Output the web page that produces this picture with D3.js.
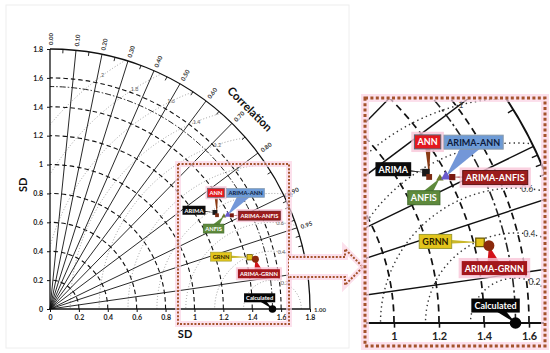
<!DOCTYPE html>
<html>
<head>
<meta charset="utf-8">
<script src="https://cdn.jsdelivr.net/npm/d3@7"></script>
<style>
  body { margin: 0; background: #fff; }
  svg { display: block; font-family: Lato, "Open Sans", sans-serif; }
</style>
</head>
<body>
<svg id="chart" width="550" height="353"></svg>
<script>
// models on the Taylor diagram: standard deviation and correlation
const models = ["ARIMA", "ANN", "ANFIS", "ARIMA-ANN", "ARIMA-ANFIS", "GRNN", "ARIMA-GRNN", "Calculated"];
const sdValues = [1.323, 1.326, 1.365, 1.392, 1.416, 1.428, 1.463, 1.54];
const corrValues = [0.863, 0.872, 0.882, 0.884, 0.889, 0.968, 0.972, 1.0];
const refSD = 1.54;

const sdTicks = [0, 0.2, 0.4, 0.6, 0.8, 1, 1.2, 1.4, 1.6, 1.8];
const sdTickLabels = ["0", "0.2", "0.4", "0.6", "0.8", "1", "1.2", "1.4", "1.6", "1.8"];
const sdRings = [0.2, 0.4, 0.6, 0.8, 1, 1.2, 1.4, 1.6];
const corrTicks = [0, 0.1, 0.2, 0.3, 0.4, 0.5, 0.6, 0.7, 0.8, 0.9, 0.95, 0.99, 1];
const corrTickLabels = ["0.00", "0.10", "0.20", "0.30", "0.40", "0.50", "0.60", "0.70", "0.80", "0.90", "0.95", "0.99", "1.00"];
const corrMinor = [0.05, 0.15, 0.25, 0.35, 0.45, 0.55, 0.65, 0.75, 0.85, 0.91, 0.92, 0.93, 0.94, 0.96, 0.97, 0.98];
const rmsRings = [0.2, 0.4, 0.6, 0.8, 1, 1.2, 1.4, 1.6, 1.8, 2];
const rmsLabels = ["0.2", "0.4", "0.6", "0.8", "1", "1.2", "1.4", "1.6", "1.8", "2"];

// layout: where each rms label sits on its ring (degrees, seen from the reference point)
const rmsLabelAngle = [65, 81, 85, 82, 104, 108.5, 112, 116, 122, 126];

// layout + look of the callouts, offsets in main-chart pixels
const callouts = {
  "ARIMA":       { dx: -20.9, dy: -2.2, fill: "#0c0c0c", ink: "#fff", tail: 0.9, tailFill: "#111", shape: d3.symbolSquare, size: 24, mFill: "#1a1a1a" },
  "ANN":         { dx: -1, dy: -22.5, fill: "#e3191f", ink: "#fff", stroke: "#4f6b78", glow: true, tail: 2, tailFill: "#8a3a14", shape: d3.symbolSquare, size: 14, mFill: "#7b2a12" },
  "ANFIS":       { dx: -10.3, dy: 12.5, fill: "#5e8a3c", ink: "#fff", stroke: "#3f6a2a", tail: 3.5, tailFill: "#5e8a3c", shape: d3.symbolTriangle, size: 10, mFill: "#6b7a2a" },
  "ARIMA-ANN":   { dx: 17.8, dy: -22.1, fill: "#6e9bd6", ink: "#0c1a3a", stroke: "#8a9aa8", tail: 6, tailFill: "#7397d8", shape: d3.symbolTriangle, size: 18, mFill: "#6a5acd" },
  "ARIMA-ANFIS": { dx: 27.6, dy: 0.3, fill: "#9c1c1c", ink: "#fff", stroke: "#5a1010", glow: true, tail: 2, tailFill: "#8b1a1a", shape: d3.symbolSquare, size: 16, mFill: "#7a1a10" },
  "GRNN":        { dx: -28.6, dy: -0.6, fill: "#e2c41c", ink: "#2a1c00", stroke: "#9a9a30", tail: 1.8, tailFill: "#c9b72a", shape: d3.symbolSquare, size: 30, mFill: "#e6c51a", mStroke: "#6b5a00" },
  "ARIMA-GRNN":  { dx: 3.5, dy: 14.4, fill: "#a3161b", ink: "#fff", glow: true, tail: 5, tailFill: "#d3121a", shape: d3.symbolCircle, size: 38, mFill: "#8b2a0c" },
  "Calculated":  { dx: -12.8, dy: -11.2, fill: "#050505", ink: "#fff", tail: 3, tailFill: "#050505", shape: d3.symbolCircle, size: 44, mFill: "#050505" }
};

const svg = d3.select("#chart");

const mainX = d3.scaleLinear().domain([0, 1.8]).range([50, 310]);
const mainY = d3.scaleLinear().domain([0, 1.8]).range([309, 49]);
const insetX = d3.scaleLinear().domain([0, 1.8]).range([169, 574]);
const insetY = d3.scaleLinear().domain([0, 1.8]).range([323, -82]);

function drawTaylor(g, sx, sy, k, id, look) {
  const ox = sx(0), oy = sy(0), u = sx(1) - sx(0);
  const at = (r, c) => [sx(r * c), sy(r * Math.sqrt(Math.max(0, 1 - c * c)))];
  const ring = r => {
    const p = d3.path();
    p.arc(ox, oy, r * u, 0, -Math.PI / 2, true);
    return p.toString();
  };

  g.append("clipPath").attr("id", id)
    .append("path").attr("d", ring(1.8) + `L${ox},${oy}Z`);

  // centred rms rings around the observed point
  g.append("g").attr("clip-path", `url(#${id})`)
    .selectAll("circle").data(rmsRings).join("circle")
    .attr("cx", sx(refSD)).attr("cy", oy).attr("r", d => d * u)
    .attr("fill", "none").attr("stroke", look.rms)
    .attr("stroke-width", 0.9 * k)
    .attr("stroke-dasharray", `${0.9 * k} ${2.1 * k}`);

  // radial correlation lines
  g.append("g").selectAll("line")
    .data(corrTicks.filter(c => c > 0 && c < 1)).join("line")
    .attr("x1", ox).attr("y1", oy)
    .attr("x2", d => at(1.8, d)[0]).attr("y2", d => at(1.8, d)[1])
    .attr("stroke", "#111").attr("stroke-width", 0.9 * k);

  // standard deviation rings
  g.append("g").selectAll("path").data(sdRings).join("path")
    .attr("d", ring).attr("fill", "none")
    .attr("stroke", "#111").attr("stroke-width", 1.1 * k)
    .attr("stroke-dasharray", `${4.5 * k} ${3 * k}`);

  g.append("path").attr("d", ring(refSD)).attr("fill", "none")
    .attr("stroke", "#222").attr("stroke-width", 1 * k)
    .attr("stroke-dasharray", `${6 * k} ${2 * k} ${1.5 * k} ${2 * k}`);

  // outer arc and its minor ticks
  g.append("path").attr("d", ring(1.8)).attr("fill", "none")
    .attr("stroke", "#111").attr("stroke-width", 1.3 * k);

  g.append("g").selectAll("line").data(corrMinor).join("line")
    .attr("x1", d => at(1.8, d)[0]).attr("y1", d => at(1.8, d)[1])
    .attr("x2", d => at(1.8 - 4 * k / u, d)[0]).attr("y2", d => at(1.8 - 4 * k / u, d)[1])
    .attr("stroke", "#111").attr("stroke-width", 0.9 * k);

  // rms labels
  g.append("g").selectAll("text").data(rmsRings).join("text")
    .attr("x", (d, i) => sx(refSD + d * Math.cos(rmsLabelAngle[i] * Math.PI / 180)))
    .attr("y", (d, i) => sy(d * Math.sin(rmsLabelAngle[i] * Math.PI / 180)))
    .attr("text-anchor", "middle").attr("dominant-baseline", "central")
    .attr("font-size", 5.5 * k).attr("fill", look.rmsText)
    .text((d, i) => rmsLabels[i]);

  // correlation labels round the arc
  g.append("g").selectAll("text").data(corrTicks).join("text")
    .attr("transform", d => {
      const [x, y] = at(1.8 + 4 * k / u, d);
      return `translate(${x},${y}) rotate(${-Math.acos(d) * 180 / Math.PI})`;
    })
    .attr("dominant-baseline", "central")
    .attr("font-size", 6 * k).attr("font-weight", 700).attr("fill", "#333")
    .text((d, i) => corrTickLabels[i]);

  // axes
  const xAxis = g.append("g").attr("transform", `translate(0,${oy})`)
    .call(d3.axisBottom(sx).tickValues(sdTicks).tickSize(3 * k).tickPadding(3 * k)
      .tickFormat((d, i) => sdTickLabels[i]));
  const yAxis = g.append("g").attr("transform", `translate(${ox},0)`)
    .call(d3.axisLeft(sy).tickValues(sdTicks).tickSize(3 * k).tickPadding(4 * k)
      .tickFormat((d, i) => sdTickLabels[i]));
  [xAxis, yAxis].forEach(a => {
    a.select(".domain").remove();
    a.attr("font-family", null).attr("font-size", null);
    a.selectAll(".tick line").attr("stroke", "#111").attr("stroke-width", 1 * k);
    a.selectAll(".tick text").attr("font-size", 7 * k).attr("font-weight", 700).attr("fill", "#222");
  });

  g.append("line").attr("x1", ox).attr("y1", oy).attr("x2", sx(1.8)).attr("y2", oy)
    .attr("stroke", "#111").attr("stroke-width", 1.3 * k);
  g.append("line").attr("x1", ox).attr("y1", oy).attr("x2", ox).attr("y2", sy(1.8))
    .attr("stroke", "#111").attr("stroke-width", 1.3 * k);

  // titles
  g.append("text").attr("x", sx(0.935)).attr("y", oy + 24 * k)
    .attr("text-anchor", "middle").attr("dominant-baseline", "central")
    .attr("font-size", 11 * k).attr("font-weight", 700).attr("fill", "#111").text("SD");
  g.append("text").attr("transform", `translate(${ox - 28 * k},${sy(0.86)}) rotate(-90)`)
    .attr("text-anchor", "middle").attr("dominant-baseline", "central")
    .attr("font-size", 11 * k).attr("font-weight", 700).attr("fill", "#111").text("SD");
  const [cx, cy] = at(1.96, 0.707);
  g.append("text").attr("transform", `translate(${cx},${cy}) rotate(45)`)
    .attr("text-anchor", "middle").attr("dominant-baseline", "central")
    .attr("font-size", 11.5 * k).attr("font-weight", 700).attr("fill", "#111").text("Correlation");

  drawCallouts(g, sx, sy, k);
}

function drawCallouts(g, sx, sy, k) {
  const pts = models.map((m, i) => {
    const r = sdValues[i], c = corrValues[i];
    const px = sx(r * c), py = sy(r * Math.sqrt(1 - c * c));
    const o = callouts[m];
    return { m, o, px, py, bx: px + o.dx * k, by: py + o.dy * k };
  });

  const tails = g.append("g");
  const marks = g.append("g");
  const boxes = g.append("g");

  pts.forEach(p => {
    const a = Math.atan2(p.py - p.by, p.px - p.bx);
    const nx = -Math.sin(a) * p.o.tail * k, ny = Math.cos(a) * p.o.tail * k;
    tails.append("path")
      .attr("d", `M${p.bx + nx},${p.by + ny}L${p.px},${p.py}L${p.bx - nx},${p.by - ny}Z`)
      .attr("fill", p.o.tailFill);

    marks.append("path")
      .attr("transform", `translate(${p.px},${p.py})`)
      .attr("d", d3.symbol(p.o.shape, p.o.size * k * k)())
      .attr("fill", p.o.mFill)
      .attr("stroke", p.o.mStroke || "none").attr("stroke-width", 0.8 * k);

    const b = boxes.append("g").attr("transform", `translate(${p.bx},${p.by})`);
    const glow = b.append("rect");
    const box = b.append("rect");
    const t = b.append("text")
      .attr("text-anchor", "middle").attr("dominant-baseline", "central")
      .attr("font-size", 5.8 * k).attr("font-weight", 700).attr("fill", p.o.ink)
      .text(p.m);
    const w = t.node().getComputedTextLength() + 4 * k, h = 9 * k;
    box.attr("x", -w / 2).attr("y", -h / 2).attr("width", w).attr("height", h)
      .attr("fill", p.o.fill)
      .attr("stroke", p.o.stroke || "none").attr("stroke-width", 0.6 * k);
    if (p.o.glow) {
      glow.attr("x", -w / 2 - 2 * k).attr("y", -h / 2 - 2 * k)
        .attr("width", w + 4 * k).attr("height", h + 4 * k)
        .attr("fill", "#f9c6d8").attr("opacity", 0.8);
    } else {
      glow.remove();
    }
  });
}

// faint frame of the main figure
svg.append("rect").attr("x", 6).attr("y", 5).attr("width", 343).attr("height", 343)
  .attr("fill", "none").attr("stroke", "#eeeeee");

const mainG = svg.append("g");
drawTaylor(mainG, mainX, mainY, 1, "quarterMain", { rms: "#8a8a8a", rmsText: "#666" });

// zoom window on the main chart
const win = svg.append("g");
win.append("rect").attr("x", 178).attr("y", 164).attr("width", 111).attr("height", 160)
  .attr("fill", "none").attr("stroke", "#fbd3e4").attr("stroke-width", 6).attr("opacity", 0.7);
win.append("rect").attr("x", 178).attr("y", 164).attr("width", 111).attr("height", 160)
  .attr("fill", "none").attr("stroke", "#a4532c").attr("stroke-width", 2)
  .attr("stroke-dasharray", "2 1.6");

// arrow to the inset
const arrowPts = [[289, 257], [345, 257], [345, 249], [363, 267], [345, 285], [345, 277], [289, 277]];
const arrowPath = "M" + arrowPts.map(p => p.join(",")).join("L");
svg.append("path").attr("d", arrowPath + "Z").attr("fill", "#fff").attr("stroke", "none");
svg.append("path").attr("d", arrowPath).attr("fill", "none")
  .attr("stroke", "#fbd3e4").attr("stroke-width", 6).attr("opacity", 0.7);
svg.append("path").attr("d", arrowPath).attr("fill", "none")
  .attr("stroke", "#a4532c").attr("stroke-width", 2).attr("stroke-dasharray", "2 1.6");

// inset: the same diagram, magnified and cropped
const inset = svg.append("g");
inset.append("clipPath").attr("id", "insetWin")
  .append("rect").attr("x", 366).attr("y", 99).attr("width", 178).attr("height", 246);
inset.append("rect").attr("x", 365).attr("y", 98).attr("width", 180).attr("height", 248)
  .attr("fill", "#fff");
const insetG = inset.append("g").attr("clip-path", "url(#insetWin)");
drawTaylor(insetG, insetX, insetY, 1.558, "quarterInset", { rms: "#333", rmsText: "#444" });

// texts that fall outside the inset window are not part of it
insetG.selectAll("text").each(function () {
  const b = this.getBoundingClientRect();
  if (b.left < 364 || b.right > 546 || b.top < 96 || b.bottom > 348) d3.select(this).remove();
});

inset.append("rect").attr("x", 365).attr("y", 98).attr("width", 180).attr("height", 248)
  .attr("fill", "none").attr("stroke", "#fbd3e4").attr("stroke-width", 8).attr("opacity", 0.7);
inset.append("rect").attr("x", 365).attr("y", 98).attr("width", 180).attr("height", 248)
  .attr("fill", "none").attr("stroke", "#a4532c").attr("stroke-width", 3)
  .attr("stroke-dasharray", "3 2.4");
</script>
</body>
</html>
